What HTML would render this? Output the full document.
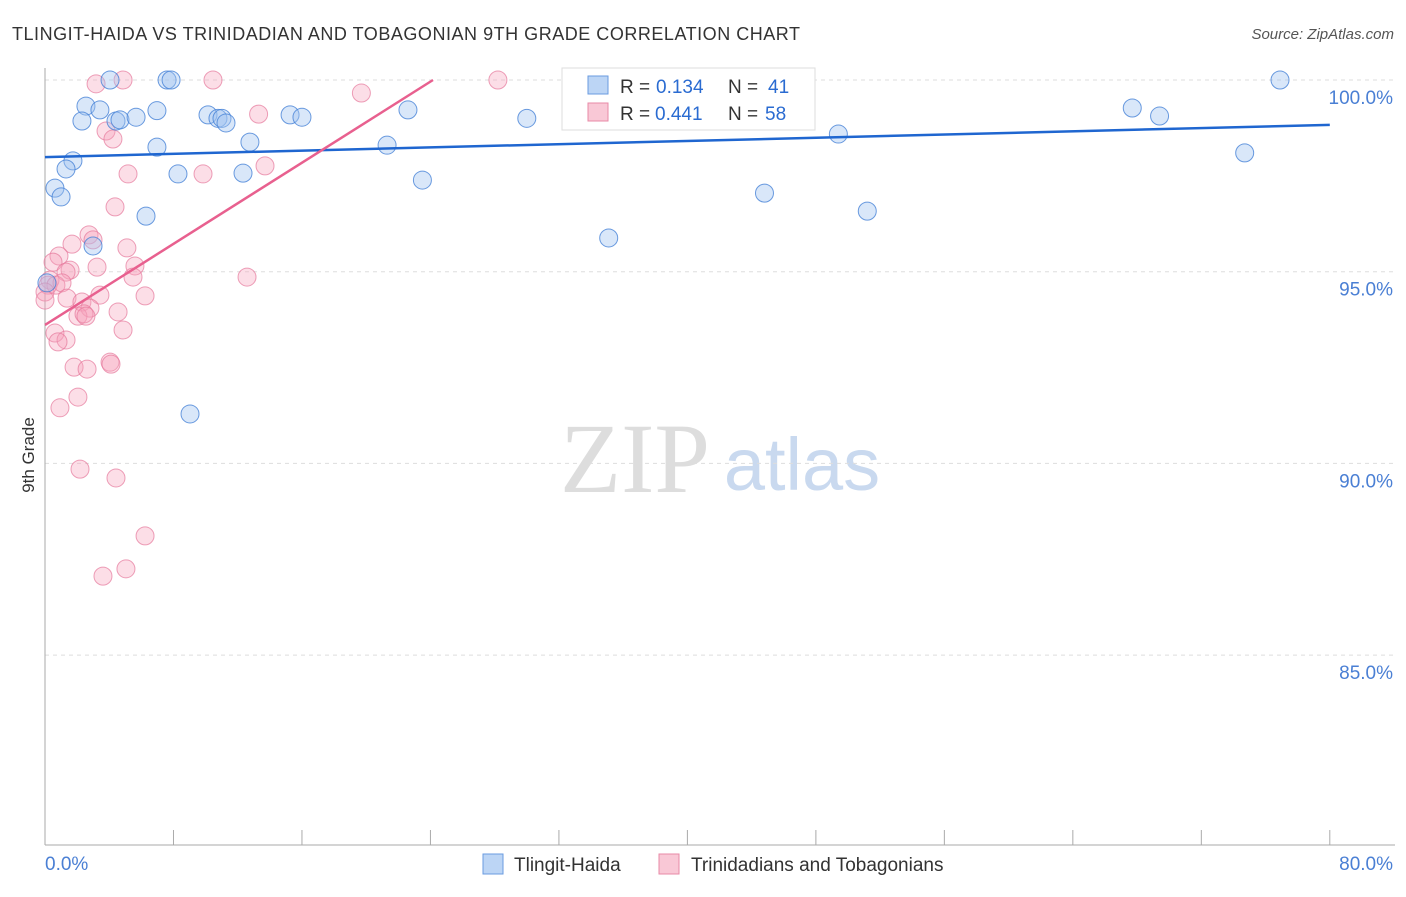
<!DOCTYPE html>
<html><head><meta charset="utf-8"><style>
body{margin:0;background:#fff;font-family:"Liberation Sans",sans-serif}
</style></head><body>
<svg id="c" width="1406" height="892" xmlns="http://www.w3.org/2000/svg">
<text x="12" y="40" font-size="18" fill="#333" textLength="788">TLINGIT-HAIDA VS TRINIDADIAN AND TOBAGONIAN 9TH GRADE CORRELATION CHART</text>
<text x="1394" y="39" font-size="15" fill="#555" text-anchor="end" font-style="italic">Source: ZipAtlas.com</text>
<text x="34" y="455" font-size="17" fill="#333" text-anchor="middle" transform="rotate(-90 34 455)">9th Grade</text>
<g><text x="635" y="492" font-size="100" fill="#ddd" text-anchor="middle" font-family="Liberation Serif">ZIP</text><text x="802" y="490" font-size="74" fill="#c9d9ef" text-anchor="middle">atlas</text></g>
<g id="grid"></g><g id="axes"></g><g id="pts"></g><g id="lines"></g>
<g>
<rect x="562" y="68" width="253" height="62" fill="#fff" stroke="#ddd"/>
<rect x="588" y="76" width="20" height="18" fill="#bcd5f5" stroke="#6a9be0"/>
<text x="620" y="93" font-size="19" fill="#333">R =</text><text x="656" y="93" font-size="19" fill="#2a6bd1">0.134</text>
<text x="728" y="93" font-size="19" fill="#333">N =</text><text x="768" y="93" font-size="19" fill="#2a6bd1">41</text>
<rect x="588" y="103" width="20" height="18" fill="#f9c8d6" stroke="#e88aa7"/>
<text x="620" y="120" font-size="19" fill="#333">R =</text><text x="655" y="120" font-size="19" fill="#2a6bd1">0.441</text>
<text x="728" y="120" font-size="19" fill="#333">N =</text><text x="765" y="120" font-size="19" fill="#2a6bd1">58</text>
</g>
<g>
<rect x="483" y="854" width="20" height="20" fill="#bcd5f5" stroke="#6a9be0"/>
<text x="514" y="871" font-size="19" fill="#333">Tlingit-Haida</text>
<rect x="659" y="854" width="20" height="20" fill="#f9c8d6" stroke="#e88aa7"/>
<text x="691" y="871" font-size="19" fill="#333">Trinidadians and Tobagonians</text>
</g>
</svg>
<script>
const yTicks=[100,95,90,85];
const yTickLabels=["100.0%","95.0%","90.0%","85.0%"];
const xTickLabels=["0.0%","80.0%"];
const blueX=[4.05,7.6,7.85,36.6,76.9,2.55,3.42,2.3,4.42,4.67,5.67,6.97,10.15,10.77,11.02,11.27,15.26,16.0,22.6,30.0,67.7,69.4,12.76,6.97,21.3,49.4,74.7,1.74,1.31,8.28,12.33,23.5,0.62,1.0,44.8,6.29,51.2,2.99,35.1,9.03,0.12];
const blueY=[100,100,100,100,100,99.32,99.22,98.93,98.93,98.96,99.03,99.2,99.09,99.0,99.0,98.88,99.09,99.03,99.22,99.0,99.27,99.06,98.38,98.25,98.3,98.59,98.1,97.89,97.68,97.55,97.57,97.39,97.18,96.95,97.05,96.45,96.58,95.67,95.88,91.29,94.71];
const pinkX=[4.86,10.46,28.2,3.18,19.7,3.8,4.23,13.3,13.7,5.17,9.84,4.36,2.74,2.99,1.68,5.1,0.87,0.5,3.24,5.6,1.56,1.31,12.58,5.48,0.31,0.19,0.68,1.06,0,1.37,3.42,6.23,2.3,2.8,4.55,2.05,2.43,2.55,4.86,0.62,1.31,0.81,4.05,4.11,1.81,2.62,2.05,0.93,2.18,4.42,6.23,5.04,3.61,0.0];
const pinkY=[100,100,100,99.9,99.66,98.67,98.46,99.11,97.76,97.55,97.55,96.69,95.96,95.83,95.72,95.62,95.41,95.25,95.12,95.15,95.04,94.99,94.86,94.86,94.78,94.65,94.65,94.71,94.47,94.31,94.39,94.37,94.21,94.05,93.95,93.84,93.9,93.84,93.48,93.4,93.22,93.17,92.64,92.59,92.51,92.46,91.73,91.45,89.85,89.62,88.11,87.25,87.06,94.26];
const blueLine=[97.99,98.83];
const pinkLine={intercept:93.61,slope:0.2645};
const X=v=>45+v*16.06, Y=v=>80+(100-v)*38.34;
const NS="http://www.w3.org/2000/svg";
function mk(t,a,p){const e=document.createElementNS(NS,t);for(const k in a)e.setAttribute(k,a[k]);document.getElementById(p).appendChild(e);return e;}
yTicks.forEach((t,i)=>{
 const g=mk('line',{x1:45,x2:1395,y1:Y(t),y2:Y(t),stroke:'#ddd','stroke-dasharray':'4,4'},'grid');
 
 
 const l=mk('text',{x:1393,y:Y(t)+24,'font-size':19,fill:'#4a7fd4','text-anchor':'end'},'axes');l.textContent=yTickLabels[i];
 
 
});
let a=mk('line',{x1:45,x2:45,y1:68,y2:845,stroke:'#aaa'},'axes');


a=mk('line',{x1:45,x2:1395,y1:845,y2:845,stroke:'#aaa'},'axes');


for(let i=0;i<=10;i++){const t=mk('line',{x1:X(i*8),x2:X(i*8),y1:830,y2:845,stroke:'#aaa'},'axes');
 
 }
let xl=mk('text',{x:45,y:870,'font-size':19,fill:'#4a7fd4'},'axes');xl.textContent=xTickLabels[0];


xl=mk('text',{x:1393,y:870,'font-size':19,fill:'#4a7fd4','text-anchor':'end'},'axes');xl.textContent=xTickLabels[1];


pinkX.forEach((x,i)=>{const c=mk('circle',{cx:X(x),cy:Y(pinkY[i]),r:9,fill:'rgba(245,160,185,0.35)',stroke:'rgba(230,120,155,0.7)'},'pts');
 
 });
blueX.forEach((x,i)=>{const c=mk('circle',{cx:X(x),cy:Y(blueY[i]),r:9,fill:'rgba(160,195,240,0.4)',stroke:'rgba(70,130,215,0.8)'},'pts');
 
 });
let bl=mk('line',{x1:X(0),y1:Y(blueLine[0]),x2:X(80),y2:Y(blueLine[1]),stroke:'#1f66d0','stroke-width':2.5},'lines');


const xe=(100-pinkLine.intercept)/pinkLine.slope;
let pl=mk('line',{x1:X(0),y1:Y(pinkLine.intercept),x2:X(xe),y2:Y(100),stroke:'#e8608f','stroke-width':2.5},'lines');


</script>
</body></html>
